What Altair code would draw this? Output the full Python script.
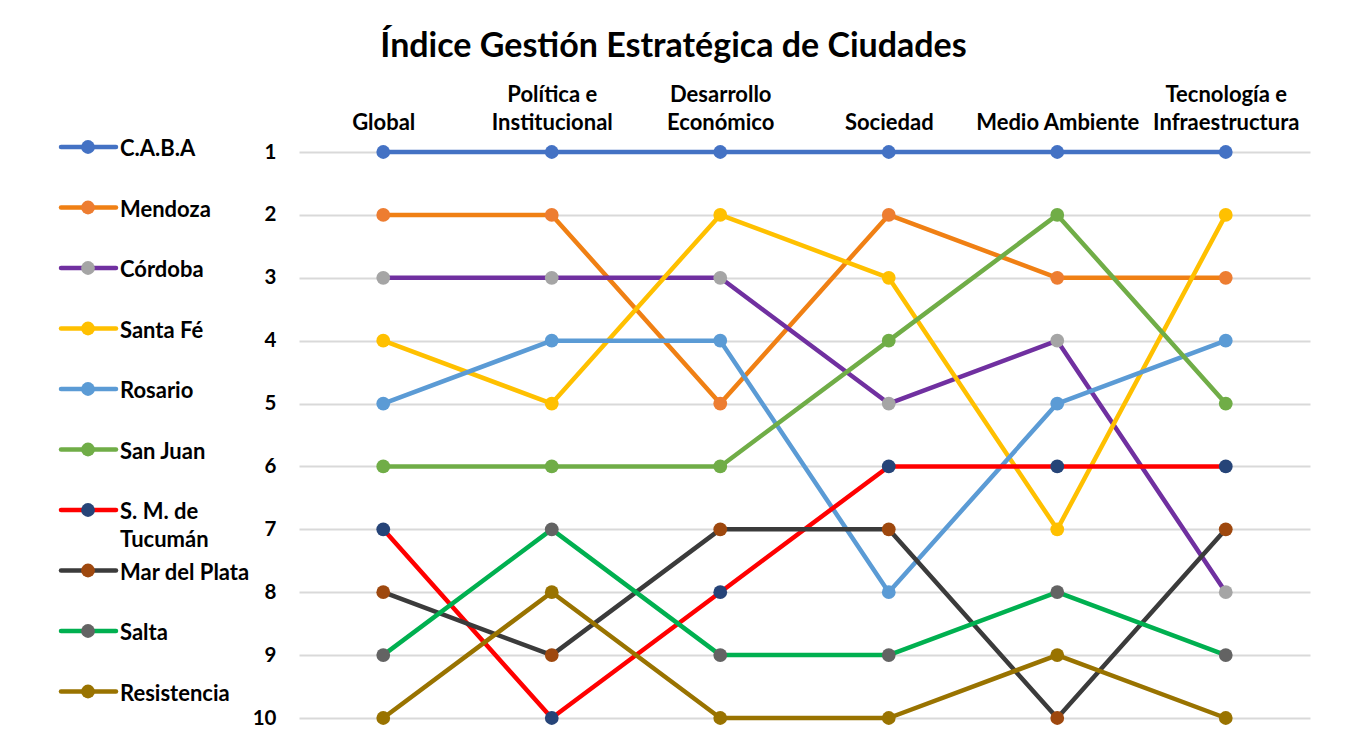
import json
import altair as alt
import pandas as pd

FONT = "Lato"

categories = ["Global", "Política e Institucional", "Desarrollo Económico",
              "Sociedad", "Medio Ambiente", "Tecnología e Infraestructura"]
# label lines (two rows each, an empty first row for single-line labels)
category_lines = [["", "Global"], ["Política e", "Institucional"], ["Desarrollo", "Económico"],
                  ["", "Sociedad"], ["", "Medio Ambiente"], ["Tecnología e", "Infraestructura"]]

cities = ["C.A.B.A", "Mendoza", "Córdoba", "Santa Fé", "Rosario", "San Juan",
          "S. M. de Tucumán", "Mar del Plata", "Salta", "Resistencia"]
legend_labels = ["C.A.B.A", "Mendoza", "Córdoba", "Santa Fé", "Rosario", "San Juan",
                 "S. M. de\nTucumán", "Mar del Plata", "Salta", "Resistencia"]

rank_caba = [1, 1, 1, 1, 1, 1]
rank_mendoza = [2, 2, 5, 2, 3, 3]
rank_cordoba = [3, 3, 3, 5, 4, 8]
rank_santafe = [4, 5, 2, 3, 7, 2]
rank_rosario = [5, 4, 4, 8, 5, 4]
rank_sanjuan = [6, 6, 6, 4, 2, 5]
rank_tucuman = [7, 10, 8, 6, 6, 6]
rank_mardelplata = [8, 9, 7, 7, 10, 7]
rank_salta = [9, 7, 9, 9, 8, 9]
rank_resistencia = [10, 8, 10, 10, 9, 10]

ranks = [rank_caba, rank_mendoza, rank_cordoba, rank_santafe, rank_rosario,
         rank_sanjuan, rank_tucuman, rank_mardelplata, rank_salta, rank_resistencia]

line_colors = ["#4472C4", "#F08014", "#7030A0", "#FFC000", "#5B9BD5",
               "#70AD47", "#FF0000", "#3B3B3B", "#00B050", "#997300"]
marker_colors = ["#4472C4", "#ED7D31", "#A5A5A5", "#FFC000", "#5B9BD5",
                 "#70AD47", "#264478", "#9E480E", "#636363", "#997300"]

rank_ticks = [1, 2, 3, 4, 5, 6, 7, 8, 9, 10]

rows = []
for i, city in enumerate(cities):
    for cat, r in zip(categories, ranks[i]):
        rows.append({"ciudad": city, "categoria": cat, "rank": r,
                     "line_color": line_colors[i], "marker_color": marker_colors[i]})
df = pd.DataFrame(rows)

leg_df = pd.DataFrame({"ciudad": cities, "label": legend_labels,
                       "line_color": line_colors, "marker_color": marker_colors})

parts = [f"datum.value == '{c}' ? {json.dumps(l, ensure_ascii=False)}"
         for c, l in zip(categories, category_lines)]
label_expr = " : ".join(parts) + " : datum.label"

LBL = dict(labelFont=FONT, labelFontWeight="bold", labelColor="#000000")

x_enc = alt.X("categoria:N", sort=categories,
              scale=alt.Scale(type="point", domain=categories, padding=0.5),
              axis=alt.Axis(orient="top", title=None, domain=False, ticks=False, tickSize=0,
                            labelPadding=45.5, labelAngle=0, labelExpr=label_expr,
                            labelLineHeight=27.5, labelLimit=400, labelOverlap=False,
                            labelFontSize=22, grid=False, **LBL))
y_enc = alt.Y("rank:Q",
              scale=alt.Scale(domain=[1, 10], reverse=True, nice=False, zero=False),
              axis=alt.Axis(values=rank_ticks, title=None, domain=False, ticks=False, tickSize=0,
                            labelPadding=23, grid=True, gridColor="#D9D9D9", gridWidth=2,
                            labelOverlap=False, labelFontSize=20.5, **LBL))

lines = alt.Chart(df).mark_line(strokeWidth=4.5, strokeCap="round", strokeJoin="round").encode(
    x=x_enc, y=y_enc,
    color=alt.Color("line_color:N", scale=None),
    detail="ciudad:N",
)
points = alt.Chart(df).mark_circle(size=190, opacity=1).encode(
    x=x_enc, y=y_enc,
    color=alt.Color("marker_color:N", scale=None),
)

ly = alt.Y("ciudad:N", sort=cities,
           scale=alt.Scale(type="point", domain=cities, range=[-5, 539.5], padding=0),
           axis=None)
leg_rule = alt.Chart(leg_df).mark_rule(strokeWidth=4.5, strokeCap="round").encode(
    x=alt.value(-238), x2=alt.value(-183), y=ly,
    color=alt.Color("line_color:N", scale=None),
)
leg_pt = alt.Chart(leg_df).mark_circle(size=190, opacity=1).encode(
    x=alt.value(-211), y=ly,
    color=alt.Color("marker_color:N", scale=None),
)
leg_txt = alt.Chart(leg_df).mark_text(
    align="left", baseline="top", dy=-8, font=FONT, fontSize=22, fontWeight="bold",
    color="#000000", lineBreak="\n", lineHeight=28,
).encode(x=alt.value(-179), y=ly, text="label:N")

chart = alt.layer(
    alt.layer(lines, points),
    alt.layer(leg_rule, leg_pt, leg_txt),
).resolve_scale(y="independent").properties(
    width=1011, height=566,
    title=alt.TitleParams(text="Índice Gestión Estratégica de Ciudades", font=FONT,
                          fontSize=34, fontWeight="bold", color="#000000",
                          anchor="middle", dx=-131, offset=20),
    autosize=alt.AutoSizeParams(type="none"),
    padding={"left": 291, "top": 144, "right": 27, "bottom": 11},
).configure_view(stroke=None)

chart.save("out.html", embed_options={"renderer": "svg", "actions": False})
